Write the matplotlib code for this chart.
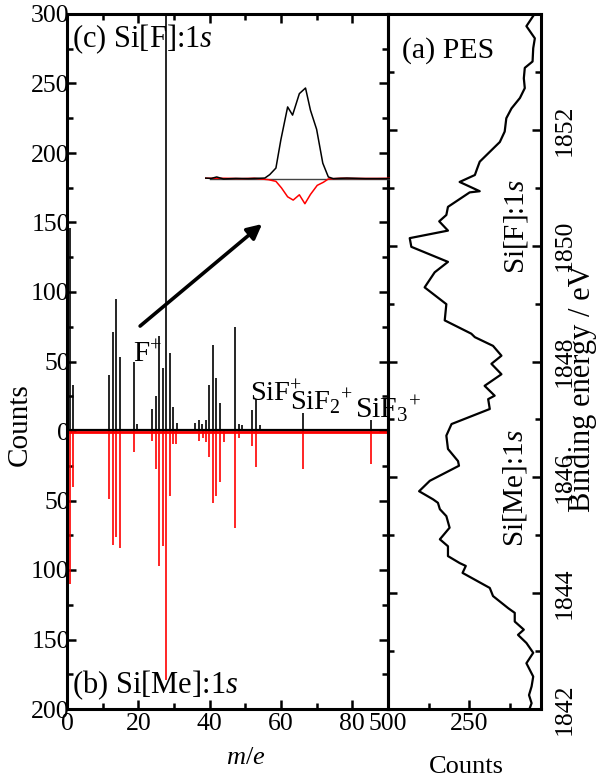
import matplotlib
matplotlib.use("Agg")
import matplotlib.pyplot as plt
from matplotlib.ticker import MultipleLocator, FixedLocator, FuncFormatter
import matplotlib.transforms as mtransforms

plt.rcParams['font.family'] = ['Liberation Serif', 'DejaVu Serif']
plt.rcParams['mathtext.fontset'] = 'custom'
plt.rcParams['mathtext.rm'] = 'Liberation Serif'
plt.rcParams['mathtext.it'] = 'Liberation Serif:italic'

# ---------------- data ----------------
# (c) Si[F]:1s  coincidence mass spectrum (positive)
mz_f = [0.9, 1.8, 11.9, 12.8, 13.8, 14.9, 18.8, 19.7, 23.7, 24.9, 25.8, 26.8, 27.8,
        28.9, 29.8, 30.8, 35.9, 37.0, 37.9, 39.0, 39.9, 40.8, 41.9, 42.9, 47.0,
        48.1, 49.0, 52.0, 53.0, 54.0, 66.2, 85.2]
cnt_f = [146, 33, 40, 71, 95, 53, 50, 5, 16, 25, 68, 45, 330,
         56, 17, 6, 6, 8, 5, 8, 33, 62, 38, 20, 75,
         5, 4, 15, 23, 4, 13, 8]
# (b) Si[Me]:1s  coincidence mass spectrum (plotted downward)
mz_me = [0.9, 1.8, 11.9, 12.8, 13.8, 14.9, 18.8, 23.7, 24.9, 25.8, 26.8, 27.8,
         28.9, 29.8, 30.7, 37.0, 38.0, 39.0, 39.9, 40.8, 41.9, 42.9, 44.0, 47.0,
         48.1, 52.0, 53.0, 66.2, 85.2]
cnt_me = [110, 40, 49, 82, 76, 84, 15, 7, 27, 97, 83, 179,
          47, 9, 9, 7, 5, 8, 19, 52, 47, 37, 8, 70,
          5, 11, 26, 27, 24]

# inset: F+ peak detail
ins_mz_f = [17.50, 17.60, 17.69, 17.80, 18.00, 18.20, 18.47, 18.55, 18.65, 18.73, 18.84,
            18.92, 19.03, 19.13, 19.21, 19.31, 19.41, 19.50, 19.58, 19.80, 20.10, 20.50]
ins_cnt_f = [0.5, 0.3, 1.1, 0.0, 0.3, 0.2, 0.5, 2.4, 6.0, 21.5, 39.6,
             35.1, 46.9, 50.0, 37.8, 27.3, 8.7, 1.1, 0.2, 0.5, 0.2, 0.2]
ins_mz_me = [17.50, 17.80, 18.10, 18.30, 18.53, 18.65, 18.74, 18.84, 18.93, 19.03, 19.12,
             19.21, 19.32, 19.42, 19.50, 19.70, 20.00, 20.30, 20.50]
ins_cnt_me = [0.4, 0.4, 0.2, 0.4, -0.4, -1.3, -4.9, -9.8, -11.6, -8.7, -13.6,
              -8.5, -3.5, -1.8, 0.0, 0.4, 0.3, 0.3, 0.4]

# (a) PES
pes_energy = [1854.05, 1853.79, 1853.58, 1853.41, 1853.18, 1853.07, 1852.89, 1852.72, 1852.55,
              1852.37, 1852.20, 1851.97, 1851.79, 1851.45, 1851.33, 1851.22, 1851.10, 1850.94,
              1850.92, 1850.67, 1850.53, 1850.42, 1850.26, 1850.13, 1849.98, 1849.72, 1849.54,
              1849.28, 1848.99, 1848.71, 1848.48, 1848.42, 1848.27, 1848.10, 1847.96, 1847.78,
              1847.58, 1847.41, 1847.35, 1847.18, 1846.92, 1846.72, 1846.49, 1846.28, 1846.20,
              1845.94, 1845.76, 1845.62, 1845.56, 1845.45, 1845.33, 1845.13, 1844.93, 1844.81,
              1844.64, 1844.52, 1844.47, 1844.35, 1844.09, 1843.95, 1843.74, 1843.66, 1843.51,
              1843.37, 1843.28, 1843.14, 1842.97, 1842.79, 1842.56, 1842.39, 1842.24, 1842.10,
              1842.01]
pes_counts = [42, 73, 47, 52, 54, 78, 81, 78, 93, 119, 135, 140, 155, 217, 225, 232, 279, 217,
              248, 315, 320, 342, 315, 433, 428, 315, 356, 387, 320, 325, 243, 232, 176, 150,
              181, 150, 202, 171, 191, 186, 304, 320, 315, 284, 281, 371, 404, 361, 346, 340,
              320, 310, 340, 315, 315, 279, 260, 270, 186, 176, 129, 109, 109, 81, 99, 73,
              52, 73, 52, 57, 65, 57, 63]

left_yticks = [-200, -150, -100, -50, 0, 50, 100, 150, 200, 250, 300]
left_xticks = [0, 20, 40, 60, 80]
pes_xticks = [500, 250]
pes_yticks = [1842, 1844, 1846, 1848, 1850, 1852]

# ---------------- figure ----------------
W, H = 601, 778
fig = plt.figure(figsize=(W / 100, H / 100), dpi=100)

def px_rect(x0, y0, x1, y1):
    return [x0 / W, 1 - y1 / H, (x1 - x0) / W, (y1 - y0) / H]

ax = fig.add_axes(px_rect(67, 14, 388, 709))
ax2 = fig.add_axes(px_rect(388, 14, 541, 709))
ax2.set_facecolor('none')

RED = '#ff0000'
up = ax.transData + mtransforms.ScaledTranslation(0, 1.0 / 100, fig.dpi_scale_trans)
dn = ax.transData + mtransforms.ScaledTranslation(0, -1.2 / 100, fig.dpi_scale_trans)
ax.plot([0, 90], [0, 0], color=RED, lw=2.0, transform=dn, zorder=2)
ax.plot([0, 90], [0, 0], color='black', lw=1.6, transform=up, zorder=3)
ax.vlines(mz_me, 0, [-c for c in cnt_me], color=RED, lw=1.2, zorder=2)
ax.vlines(mz_f, 0, cnt_f, color='black', lw=1.2, zorder=3)

ax.set_xlim(0, 90)
ax.set_ylim(-200, 300)
ax.xaxis.set_major_locator(FixedLocator(left_xticks))
ax.xaxis.set_minor_locator(MultipleLocator(10))
ax.yaxis.set_major_locator(FixedLocator(left_yticks))
ax.yaxis.set_minor_locator(MultipleLocator(25))
ax.yaxis.set_major_formatter(FuncFormatter(lambda v, p: f"{abs(int(v))}"))
ax.tick_params(which='both', direction='in', top=True, right=True, width=1.8,
               labelsize=18.5)
ax.tick_params(which='major', length=6.5)
ax.tick_params(which='minor', length=4.5)
ax.tick_params(axis='y', pad=-2)
ax.tick_params(axis='x', pad=3)
for s in ax.spines.values():
    s.set_linewidth(2.2)

ax.text(0.016, 0.988, r"(c) Si[F]:1$s$", transform=ax.transAxes, fontsize=22,
        ha='left', va='top')
ax.text(0.016, 0.022, r"(b) Si[Me]:1$s$", transform=ax.transAxes, fontsize=22,
        ha='left', va='baseline')
ax.text(18.5, 49.6, r"F$^{+}$", fontsize=21, ha='left', va='baseline')
ax.text(51.3, 20.9, r"SiF$^{+}$", fontsize=20.5, ha='left', va='baseline')
ax.text(62.5, 15.0, r"SiF$_{2}{}^{+}$", fontsize=20.5, ha='left', va='baseline')
ax.text(80.7, 9.4, r"SiF$_{3}{}^{+}$", fontsize=21.5, ha='left', va='baseline',
        clip_on=False, zorder=1)
ax.annotate('', xy=(54.7, 148.9), xytext=(20.5, 75.5),
            arrowprops=dict(arrowstyle='-|>', lw=2.6, color='black',
                            mutation_scale=22, shrinkA=0, shrinkB=0))

# inset
axi = fig.add_axes(px_rect(205, 80, 390, 215))
axi.axis('off')
axi.set_xlim(17.5, 20.5)
axi.set_ylim(-19.8, 54.4)
axi.plot([17.58, 20.5], [0, 0], color='#444444', lw=1.0, zorder=1)
axi.plot(ins_mz_me, ins_cnt_me, color=RED, lw=1.1, zorder=2)
axi.plot(ins_mz_f, ins_cnt_f, color='black', lw=1.1, zorder=3)

# PES panel
ax2.plot(pes_counts, pes_energy, color='black', lw=1.6)
ax2.set_xlim(500, 28)
ax2.set_ylim(1842, 1854)
ax2.xaxis.set_major_locator(FixedLocator(pes_xticks))
ax2.xaxis.set_minor_locator(FixedLocator([375, 125]))
ax2.yaxis.set_major_locator(FixedLocator(pes_yticks))
ax2.yaxis.set_minor_locator(MultipleLocator(1))
ax2.tick_params(which='both', direction='in', left=True, right=True,
                labelleft=False, labelright=True, width=1.8, labelsize=18.5)
ax2.tick_params(which='major', length=6.5)
ax2.tick_params(which='minor', length=4.5)
ax2.tick_params(axis='x', pad=3)
ax2.tick_params(axis='y', pad=9)
for lab in ax2.get_yticklabels():
    lab.set_rotation(90)
    lab.set_va('center')
    lab.set_ha('left')
for s in ax2.spines.values():
    s.set_linewidth(2.2)

ax2.text(0.092, 0.967, "(a) PES", transform=ax2.transAxes, fontsize=21.5,
         ha='left', va='top')
ax2.text(0.837, 0.694, r"Si[F]:1$s$", transform=ax2.transAxes, fontsize=21,
         rotation=90, ha='center', va='center')
ax2.text(0.83, 0.318, r"Si[Me]:1$s$", transform=ax2.transAxes, fontsize=21,
         rotation=90, ha='center', va='center')

# axis labels
fig.text(20 / W, 1 - 425 / H, "Counts", fontsize=21, rotation=90,
         ha='center', va='center')
fig.text(246 / W, 1 - 758 / H, r"$m$/$e$", fontsize=19, ha='center', va='center')
fig.text(466 / W, 1 - 767 / H, "Counts", fontsize=19, ha='center', va='center')
fig.text(582 / W, 1 - 388 / H, "Binding energy / eV", fontsize=22, rotation=90,
         ha='center', va='center')

fig.savefig("out.png", dpi=100)
